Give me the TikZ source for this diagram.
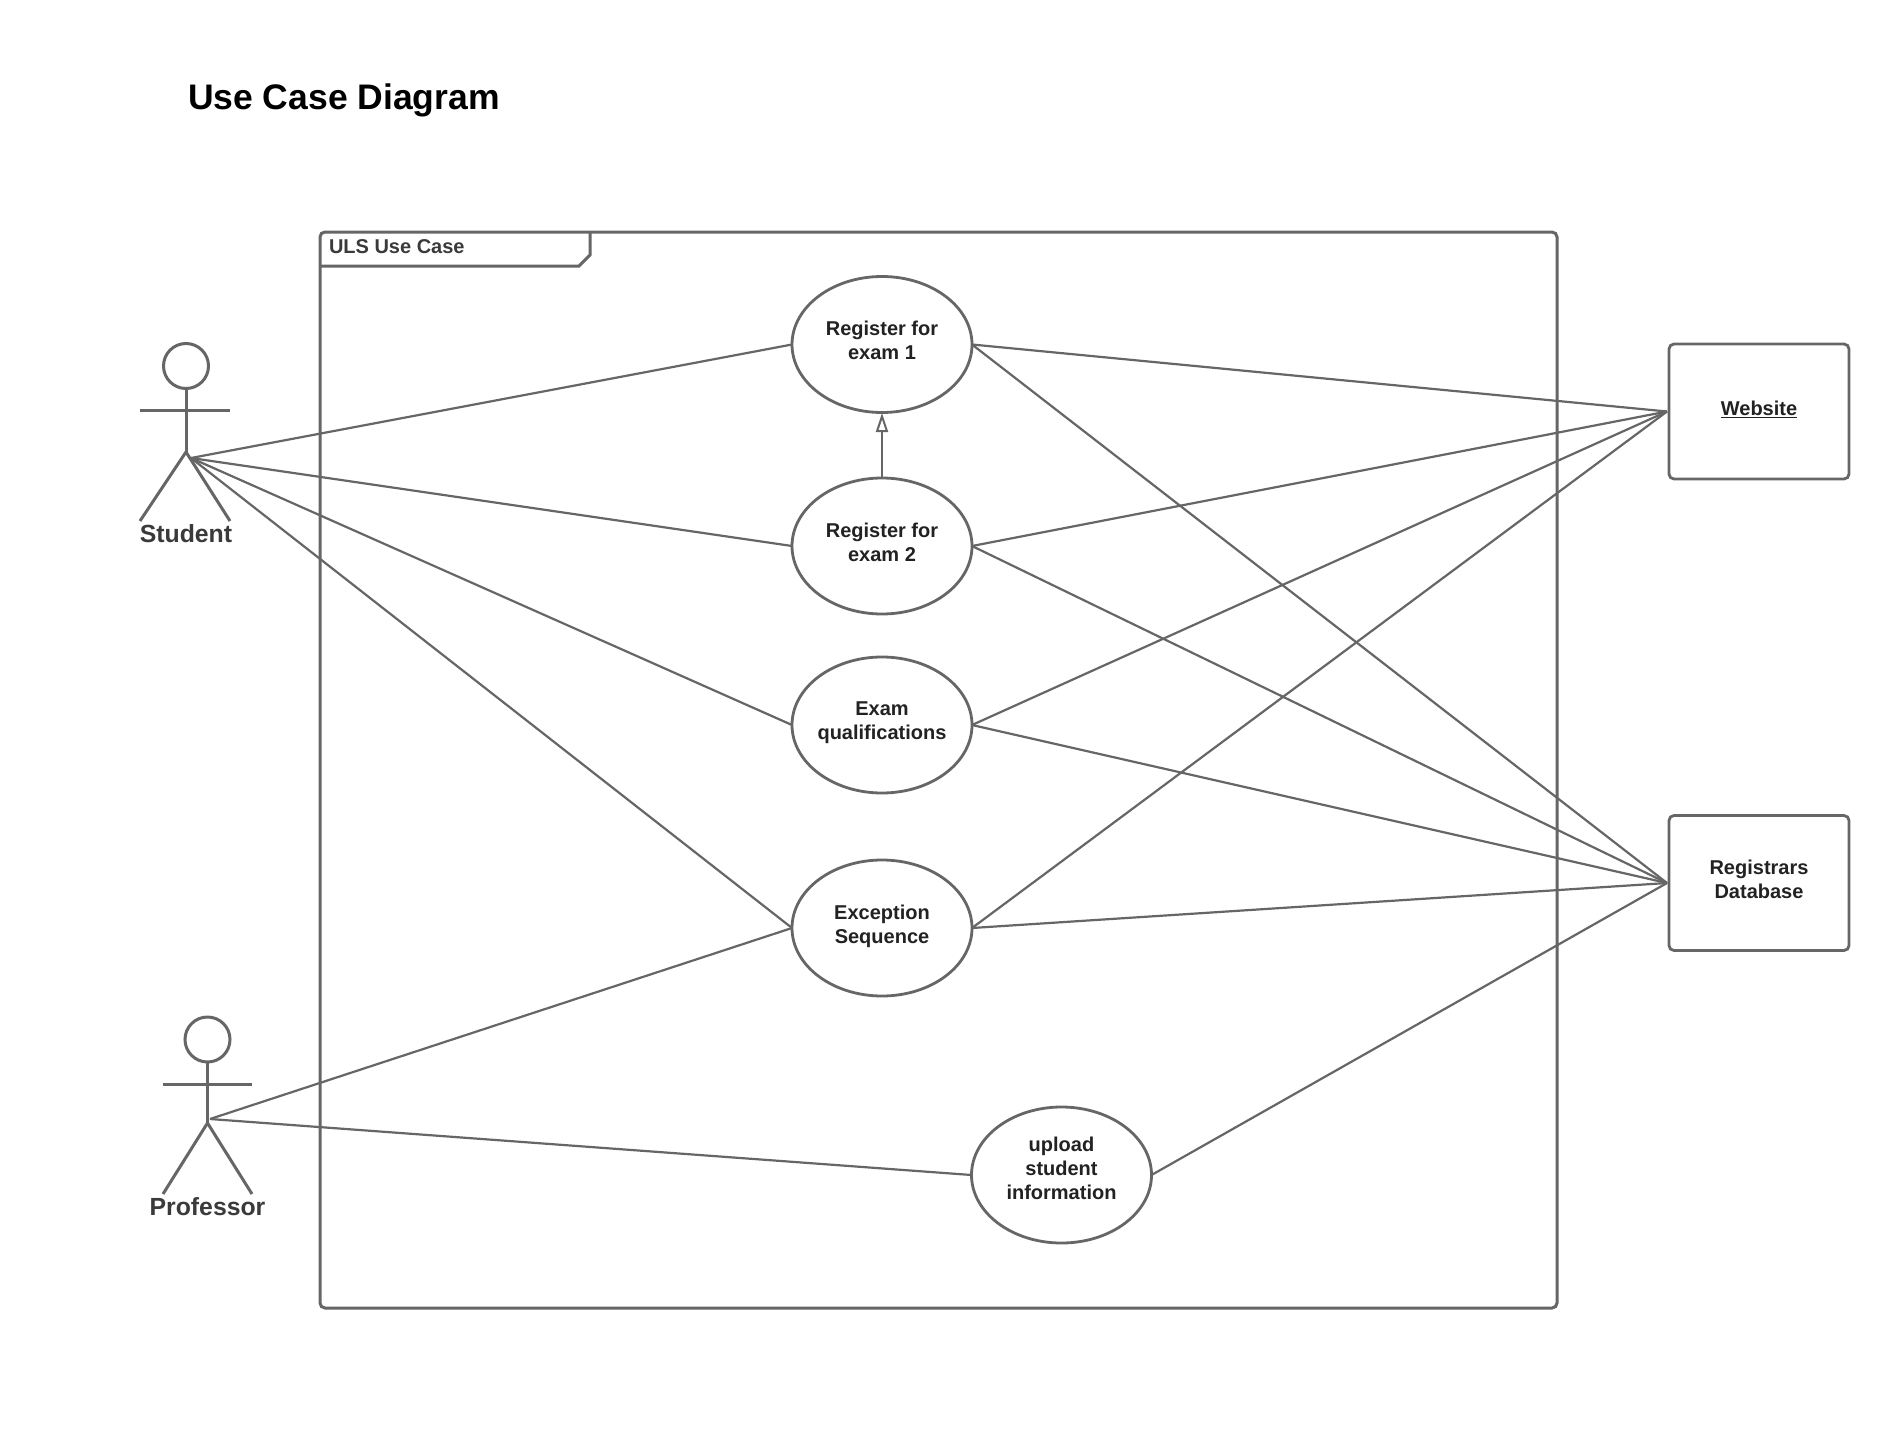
\documentclass[tikz,border=0pt]{standalone}
\usepackage{fontspec}
\setmainfont{Liberation Sans}
\usetikzlibrary{shapes.geometric,arrows.meta}
\definecolor{linegrey}{HTML}{666666}
\definecolor{labelgrey}{HTML}{3A3A3A}
\definecolor{textgrey}{HTML}{222222}
\newcommand{\liftup}{\\[-16pt]\mbox{}}
\newcommand{\liftmore}{\\[-11pt]\mbox{}}
\tikzset{
  every node/.style={inner sep=0pt,outer sep=0pt},
  usecase/.style={ellipse,draw=linegrey,line width=2.8pt,minimum width=180pt,minimum height=136pt,
     align=center,text=textgrey,font=\fontsize{20}{24}\selectfont\bfseries},
  sysbox/.style={rectangle,rounded corners=5pt,draw=linegrey,line width=2.8pt,minimum width=180pt,minimum height=135pt},
  boxtext/.style={align=center,text=textgrey,font=\fontsize{20}{24}\selectfont\bfseries},
  framebox/.style={rectangle,rounded corners=5pt,draw=linegrey,line width=3pt,minimum width=1237pt,minimum height=1076pt,anchor=north west},
  assoc/.style={draw=linegrey,line width=2.2pt},
  actorline/.style={draw=linegrey,line width=3pt},
  head/.style={circle,draw=linegrey,line width=3pt,minimum size=45pt},
  actorname/.style={text=labelgrey,font=\fontsize{24.8}{28}\selectfont\bfseries},
  general/.style={draw=linegrey,line width=2.2pt,-{Triangle[open,length=19pt,width=12pt,line width=2pt]}}
}
\begin{document}
\begin{tikzpicture}[x=1pt,y=-1pt]
\useasboundingbox (0,0) rectangle (1889,1434);
\fill[white] (0,0) rectangle (1889,1434);

% title
\node[anchor=west,text=black,font=\fontsize{35.5}{40}\selectfont\bfseries] (title) at (188,100) {Use Case Diagram};

% system frame
\node[framebox] (frame) at (320,232) {};
\draw[draw=linegrey,line width=3pt] (590,232) -- (590,255) -- (579,266) -- (320,266);
\node[anchor=west,text=labelgrey,font=\fontsize{20}{24}\selectfont\bfseries] (framelabel) at (329,246.5) {ULS Use Case};

% use cases
\node[usecase] (rone) at (882,344.5) {Register for\\exam 1\liftup};
\node[usecase] (rtwo) at (882,546) {Register for\\exam 2\liftup};
\node[usecase,inner xsep=-2pt] (qual) at (882,725) {Exam\\qualifications\liftup};
\node[usecase] (exc)  at (882,928) {Exception\\Sequence\liftup};
\node[usecase] (upl)  at (1061.5,1175) {upload\\student\\information\liftmore};

% system boxes
\node[sysbox] (web) at (1759,411.5) {};
\node[boxtext] (webtext) at (1759,409) {\underline{Website}};
\node[sysbox] (reg) at (1759,883) {};
\node[boxtext] (regtext) at (1759,879) {Registrars\\Database};
\coordinate (webin) at (1667,411.5);
\coordinate (regin) at (1667,883);

% student actor
\node[head] (shead) at (186,366) {};
\coordinate (sarmL) at (140,410);
\coordinate (sarmR) at (230,410);
\coordinate (ship) at (186,452);
\coordinate (slegL) at (140,521);
\coordinate (slegR) at (230,521);
\coordinate (sport) at (191,458);
\draw[actorline] (shead.south) -- (ship);
\draw[actorline] (sarmL) -- (sarmR);
\draw[actorline] (slegL) -- (ship) -- (slegR);
\node[actorname] (sname) at (186,534) {Student};

% professor actor
\node[head] (phead) at (207.5,1039.5) {};
\coordinate (parmL) at (163,1084);
\coordinate (parmR) at (252,1084);
\coordinate (phip) at (207.5,1123);
\coordinate (plegL) at (163,1194);
\coordinate (plegR) at (252,1194);
\coordinate (pport) at (210,1119);
\draw[actorline] (phead.south) -- (phip);
\draw[actorline] (parmL) -- (parmR);
\draw[actorline] (plegL) -- (phip) -- (plegR);
\node[actorname] (pname) at (207.5,1207) {Professor};

% associations
\draw[assoc] (sport) -- (rone.west);
\draw[assoc] (sport) -- (rtwo.west);
\draw[assoc] (sport) -- (qual.west);
\draw[assoc] (sport) -- (exc.west);
\draw[assoc] (pport) -- (exc.west);
\draw[assoc] (pport) -- (upl.west);
\foreach \u in {rone,rtwo,qual,exc}{
  \draw[assoc] (\u.east) -- (webin);
  \draw[assoc] (\u.east) -- (regin);
}
\draw[assoc] (upl.east) -- (regin);

% generalisation
\draw[general] (rtwo.north) -- ([yshift=-0.5pt]rone.south);
\end{tikzpicture}
\end{document}
